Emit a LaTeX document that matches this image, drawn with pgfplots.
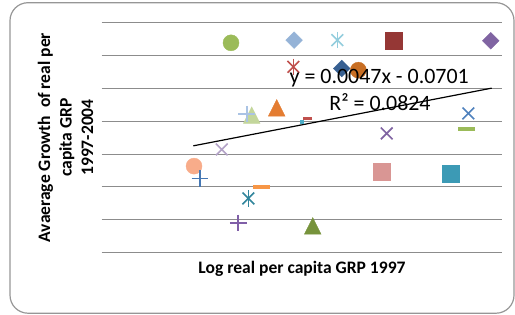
\documentclass[border=0pt]{standalone}
\usepackage{pgfplots}
\pgfplotsset{compat=1.18}
\usepackage{fontspec}
\setmainfont{Carlito}
\definecolor{bordergray}{RGB}{150,150,150}
\definecolor{gridgray}{RGB}{140,140,140}
\definecolor{cGreen}{RGB}{155,187,89}
\definecolor{cLtBlue}{RGB}{149,179,215}
\definecolor{cLtAqua}{RGB}{147,205,221}
\definecolor{cDkRed}{RGB}{149,55,53}
\definecolor{cPurple}{RGB}{128,100,162}
\definecolor{cRed}{RGB}{192,80,77}
\definecolor{cDkBlue}{RGB}{55,96,146}
\definecolor{cDkOrange}{RGB}{200,110,35}
\definecolor{cLtGreen}{RGB}{195,214,155}
\definecolor{cLtBlue2}{RGB}{170,195,228}
\definecolor{cOrange}{RGB}{228,125,50}
\definecolor{cCyan}{RGB}{75,172,198}
\definecolor{cBlue}{RGB}{79,129,189}
\definecolor{cLavender}{RGB}{179,162,199}
\definecolor{cSalmon}{RGB}{248,172,138}
\definecolor{cBlue2}{RGB}{70,120,180}
\definecolor{cOrange2}{RGB}{247,150,70}
\definecolor{cTeal}{RGB}{49,133,156}
\definecolor{cPurple2}{RGB}{128,95,168}
\definecolor{cOlive}{RGB}{119,147,60}
\definecolor{cPink}{RGB}{217,150,148}
\definecolor{cTeal2}{RGB}{60,154,181}
\begin{document}
\begin{tikzpicture}[x=1bp,y=1bp]
\useasboundingbox (0,0) rectangle (515,314);
\draw[rounded corners=18bp, color=bordergray, line width=1.2bp] (10,0.8) rectangle (514,311.3);
\begin{axis}[
  at={(101.7bp,61.3bp)}, anchor=south west,
  scale only axis, width=400bp, height=230bp,
  xmin=14.305, xmax=19.313, ymin=-0.03, ymax=0.04,
  axis line style={draw=none}, tick style={draw=none},
  xtick=\empty,
  ytick={-0.03,-0.02,-0.01,0,0.01,0.02,0.03,0.04},
  yticklabels={}, scaled y ticks=false,
  ymajorgrids, grid style={gridgray, line width=1bp},
  clip=false,
]
% circles
\addplot[only marks, mark=*, mark size=8bp, draw=cGreen, fill=cGreen] coordinates {(15.924,0.03387)};
\addplot[only marks, mark=*, mark size=8bp, draw=cSalmon, fill=cSalmon] coordinates {(15.461,-0.00365)};
% diamonds
\addplot[only marks, mark=square*, mark size=5.9bp, mark options={rotate=45}, draw=cLtBlue, fill=cLtBlue] coordinates {(16.713,0.03469)};
\addplot[only marks, mark=square*, mark size=5.9bp, mark options={rotate=45}, draw=cPurple, fill=cPurple] coordinates {(19.176,0.03448)};
\addplot[only marks, mark=square*, mark size=5.9bp, mark options={rotate=45}, draw=cDkBlue, fill=cDkBlue] coordinates {(17.310,0.02608)};
\addplot[only marks, mark=*, mark size=8bp, draw=cDkOrange, fill=cDkOrange] coordinates {(17.518,0.02556)};
% squares
\addplot[only marks, mark=square*, mark size=8.6bp, draw=cDkRed, fill=cDkRed] coordinates {(17.965,0.03448)};
\addplot[only marks, mark=square*, mark size=8.6bp, draw=cPink, fill=cPink] coordinates {(17.811,-0.00539)};
\addplot[only marks, mark=square*, mark size=8.6bp, draw=cTeal2, fill=cTeal2] coordinates {(18.675,-0.00587)};
% stars (x + |)
\addplot[only marks, mark=x, mark size=8.3bp, line width=1.6bp, color=cLtAqua] coordinates {(17.255,0.03469)};
\addplot[only marks, mark=|, mark size=8.3bp, line width=1.6bp, color=cLtAqua] coordinates {(17.255,0.03469)};
\addplot[only marks, mark=x, mark size=8.3bp, line width=1.6bp, color=cRed] coordinates {(16.704,0.02657)};
\addplot[only marks, mark=|, mark size=8.3bp, line width=1.6bp, color=cRed] coordinates {(16.704,0.02657)};
\addplot[only marks, mark=x, mark size=8.3bp, line width=1.6bp, color=cTeal] coordinates {(16.141,-0.01348)};
\addplot[only marks, mark=|, mark size=8.3bp, line width=1.6bp, color=cTeal] coordinates {(16.141,-0.01348)};
% triangles
\addplot[only marks, mark=triangle*, mark size=9.6bp, mark options={yscale=1.15}, draw=cLtGreen, fill=cLtGreen] coordinates {(16.183,0.01102)};
\addplot[only marks, mark=triangle*, mark size=9.6bp, mark options={yscale=1.15}, draw=cOrange, fill=cOrange] coordinates {(16.496,0.01324)};
\addplot[only marks, mark=triangle*, mark size=9.6bp, mark options={yscale=1.15}, draw=cOlive, fill=cOlive] coordinates {(16.947,-0.02267)};
% plus
\addplot[only marks, mark=+, mark size=8.3bp, line width=1.6bp, color=cLtBlue2] coordinates {(16.121,0.01217)};
\addplot[only marks, mark=+, mark size=8.3bp, line width=1.6bp, color=cBlue2] coordinates {(15.536,-0.0074)};
\addplot[only marks, mark=+, mark size=8.3bp, line width=1.6bp, color=cPurple2] coordinates {(16.015,-0.02091)};
% x marks
\addplot[only marks, mark=x, mark size=8.3bp, line width=1.6bp, color=cPurple] coordinates {(17.873,0.0063)};
\addplot[only marks, mark=x, mark size=8.3bp, line width=1.6bp, color=cBlue] coordinates {(18.895,0.01239)};
\addplot[only marks, mark=x, mark size=8.3bp, line width=1.6bp, color=cLavender] coordinates {(15.808,0.00143)};
% dashes
\addplot[only marks, mark=-, mark size=8.5bp, line width=4bp, color=cGreen] coordinates {(18.875,0.00761)};
\addplot[only marks, mark=-, mark size=8.5bp, line width=4bp, color=cOrange2] coordinates {(16.300,-0.01013)};
\addplot[only marks, mark=-, mark size=4.5bp, line width=3.5bp, color=cRed] coordinates {(16.884,0.01086)};
\addplot[only marks, mark=square*, mark size=1.8bp, draw=cCyan, fill=cCyan] coordinates {(16.809,0.00983)};
% trendline
\addplot[black, line width=1.2bp] coordinates {(15.452,0.002526) (19.188,0.020085)};
\end{axis}
\node[anchor=base, font=\fontsize{22}{26}\selectfont] at (379.2,230.7) {y = 0.0047x - 0.0701};
\node[anchor=base, font=\fontsize{22}{26}\selectfont] at (380,204) {R² = 0.0824};
\node[anchor=base, font=\bfseries\fontsize{17.6}{22}\selectfont] at (302,41) {Log real per capita GRP 1997};
\node[rotate=90, align=center, font=\bfseries\fontsize{17.6}{21.5}\selectfont] at (65.5,176.5) {Avaerage Growth\ \ of real per\\capita GRP\\1997-2004};
\end{tikzpicture}
\end{document}
